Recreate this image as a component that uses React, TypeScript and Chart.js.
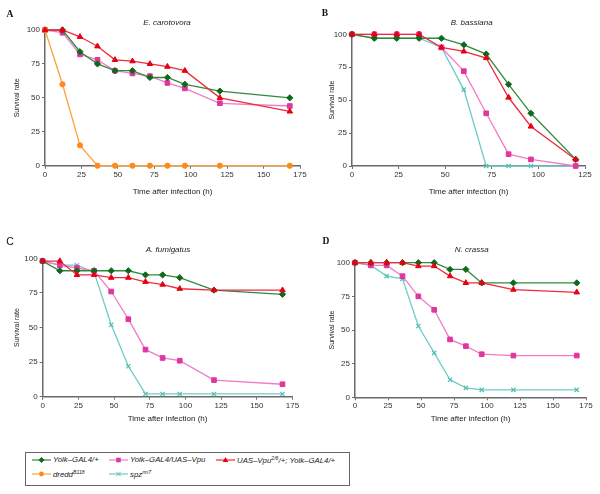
import React, { useEffect, useRef } from "react";
import { Chart, registerables } from "chart.js";
Chart.register(...registerables);

const FONT = 'Arial, "Liberation Sans", Helvetica, sans-serif';
const AXIS = "#6a6a6a";

// ---------- data ----------
const hoursLong = [0, 12, 24, 36, 48, 60, 72, 84, 96, 120, 168];
const hoursB = [0, 12, 24, 36, 48, 60, 72, 84, 96, 120];

// A: E. carotovora
const aYolk = [100, 100, 84, 75, 70, 70, 65, 65, 60, 55, 50];
const aVpu = [100, 98, 82, 78, 70, 68, 66, 61, 57, 46, 44];
const aUas = [100, 100, 95, 88, 78, 77, 75, 73, 70, 50, 40];
const aDredd = [100, 60, 15, 0, 0, 0, 0, 0, 0, 0, 0];

// B: B. bassiana
const bYolk = [100, 97, 97, 97, 97, 92, 85, 62, 40, 5];
const bVpu = [100, 100, 100, 100, 90, 72, 40, 9, 5, 0];
const bUas = [100, 100, 100, 100, 90, 87, 82, 52, 30, 5];
const bSpz = [100, 97, 97, 97, 90, 58, 0, 0, 0, 0];

// C: A. fumigatus
const cYolk = [98, 91, 91, 91, 91, 91, 88, 88, 86, 77, 74];
const cVpu = [98, 95, 93, 91, 76, 56, 34, 28, 26, 12, 9];
const cUas = [98, 98, 88, 88, 86, 86, 83, 81, 78, 77, 77];
const cSpz = [98, 95, 95, 90, 52, 22, 2, 2, 2, 2, 2];

// D: N. crassa
const dYolk = [100, 100, 100, 100, 100, 100, 95, 95, 85, 85, 85];
const dVpu = [100, 98, 98, 90, 75, 65, 43, 38, 32, 31, 31];
const dUas = [100, 100, 100, 100, 97.5, 97.5, 90, 85, 85, 80, 78];
const dSpz = [100, 98, 90, 88, 53, 33, 13, 7, 5.5, 5.5, 5.5];

const yTicks = [0, 25, 50, 75, 100];

// ---------- styles ----------
type Key = "yolk" | "vpu" | "uas" | "dredd" | "spz";
const STYLE: Record<Key, { line: string; point: string; shape: any; r: number; order: number }> = {
  uas: { line: "#ee2a3c", point: "#e60014", shape: "triangle", r: 3.2, order: 0 },
  dredd: { line: "#ffa03c", point: "#ff8a1a", shape: "circle", r: 2.6, order: 1 },
  yolk: { line: "#2f8a3c", point: "#10681c", shape: "rectRot", r: 3.1, order: 2 },
  vpu: { line: "#f27ac6", point: "#e0369f", shape: "rect", r: 3.3, order: 3 },
  spz: { line: "#70cbc5", point: "#52bdb6", shape: "crossRot", r: 3, order: 4 },
};

type Geo = {
  cx: number; cy: number; cw: number; ch: number;
  plotLeft: number; plotRight: number; plotTop: number; plotBottom: number;
  yTitleX: number; xTitleY: number;
};

type PanelDef = {
  letter: string; letterX: number; letterY: number; letterSerif: boolean;
  title: string; titleX: number; titleY: number;
  xMax: number; times: number[];
  series: { key: Key; data: number[] }[];
  geo: Geo;
};

const panels: PanelDef[] = [
  {
    letter: "A", letterX: 10, letterY: 14.5, letterSerif: true,
    title: "E. carotovora", titleX: 167, titleY: 22.7,
    xMax: 175, times: hoursLong,
    series: [
      { key: "uas", data: aUas },
      { key: "dredd", data: aDredd },
      { key: "yolk", data: aYolk },
      { key: "vpu", data: aVpu },
    ],
    geo: { cx: 0, cy: 0, cw: 320, ch: 205, plotLeft: 45, plotRight: 300, plotTop: 30, plotBottom: 165.7, yTitleX: 17, xTitleY: 191.7 },
  },
  {
    letter: "B", letterX: 325, letterY: 14, letterSerif: true,
    title: "B. bassiana", titleX: 471.7, titleY: 22.7,
    xMax: 125, times: hoursB,
    series: [
      { key: "uas", data: bUas },
      { key: "yolk", data: bYolk },
      { key: "vpu", data: bVpu },
      { key: "spz", data: bSpz },
    ],
    geo: { cx: 300, cy: 0, cw: 300, ch: 205, plotLeft: 352, plotRight: 585, plotTop: 34.3, plotBottom: 166, yTitleX: 331.7, xTitleY: 191.7 },
  },
  {
    letter: "C", letterX: 10, letterY: 240.7, letterSerif: false,
    title: "A. fumigatus", titleX: 168, titleY: 250,
    xMax: 175, times: hoursLong,
    series: [
      { key: "uas", data: cUas },
      { key: "yolk", data: cYolk },
      { key: "vpu", data: cVpu },
      { key: "spz", data: cSpz },
    ],
    geo: { cx: 0, cy: 220, cw: 320, ch: 205, plotLeft: 42.7, plotRight: 292.5, plotTop: 258.3, plotBottom: 396.7, yTitleX: 16.7, xTitleY: 418.5 },
  },
  {
    letter: "D", letterX: 326, letterY: 241.7, letterSerif: true,
    title: "N. crassa", titleX: 471.7, titleY: 250,
    xMax: 175, times: hoursLong,
    series: [
      { key: "uas", data: dUas },
      { key: "yolk", data: dYolk },
      { key: "vpu", data: dVpu },
      { key: "spz", data: dSpz },
    ],
    geo: { cx: 300, cy: 220, cw: 300, ch: 205, plotLeft: 355, plotRight: 586, plotTop: 262.7, plotBottom: 397.3, yTitleX: 332.3, xTitleY: 418.5 },
  },
];

const TICK_SIZE = 8;
const XTITLE_SIZE = 8;
const YTITLE_SIZE = 7;

function Panel({ p }: { p: PanelDef }) {
  const ref = useRef<HTMLCanvasElement>(null);
  const g = p.geo;
  useEffect(() => {
    if (!ref.current) return;
    const padTop = g.plotTop - g.cy;
    const yW = g.plotLeft - g.cx;
    const padRight = g.cx + g.cw - g.plotRight;
    const xH = g.cy + g.ch - g.plotBottom;
    const yLH = YTITLE_SIZE * 1.2;
    const xLH = XTITLE_SIZE * 1.2;
    const yTitlePad = g.yTitleX - g.cx - yLH / 2;
    const xTitlePad = g.cy + g.ch - g.xTitleY - xLH / 2;

    const datasets = p.series.map((s) => {
      const st = STYLE[s.key];
      return {
        label: s.key,
        data: p.times.map((t, i) => ({ x: t, y: s.data[i] })),
        borderColor: st.line,
        backgroundColor: st.point,
        pointBackgroundColor: st.point,
        pointBorderColor: st.point,
        pointStyle: st.shape,
        pointRadius: st.r,
        pointBorderWidth: s.key === "spz" ? 1.2 : 1,
        borderWidth: 1.3,
        tension: 0,
        clip: false as any,
        order: st.order,
      };
    });

    const chart = new Chart(ref.current, {
      type: "line",
      data: { datasets },
      options: {
        responsive: false,
        animation: false,
        devicePixelRatio: 1,
        layout: { padding: { top: padTop, left: 0, right: padRight, bottom: 0 } },
        plugins: { legend: { display: false }, tooltip: { enabled: false }, title: { display: false } },
        scales: {
          x: {
            type: "linear",
            min: 0,
            max: p.xMax,
            afterFit: (s: any) => { s.height = xH; },
            ticks: { stepSize: 25, autoSkip: false, maxRotation: 0, padding: 1, color: "#333", font: { family: FONT, size: TICK_SIZE } },
            grid: { drawOnChartArea: false, drawTicks: true, tickLength: 3, color: AXIS, lineWidth: 1 },
            border: { display: true, color: AXIS, width: 1.5 },
            title: { display: true, text: "Time after infection (h)", color: "#222", font: { family: FONT, size: XTITLE_SIZE }, padding: { top: 0, bottom: xTitlePad } },
          },
          y: {
            type: "linear",
            min: 0,
            max: 100,
            afterFit: (s: any) => { s.width = yW; },
            afterBuildTicks: (s: any) => { s.ticks = yTicks.map((v) => ({ value: v })); },
            ticks: { stepSize: 25, padding: 2, color: "#333", font: { family: FONT, size: TICK_SIZE } },
            grid: { drawOnChartArea: false, drawTicks: true, tickLength: 3, color: AXIS, lineWidth: 1 },
            border: { display: true, color: AXIS, width: 1.5 },
            title: { display: true, text: "Survival rate", color: "#222", font: { family: FONT, size: YTITLE_SIZE }, padding: { top: yTitlePad, bottom: 0 } },
          },
        },
      } as any,
    });
    return () => chart.destroy();
  }, []);
  return (
    <canvas
      ref={ref}
      width={g.cw}
      height={g.ch}
      style={{ position: "absolute", left: g.cx, top: g.cy, width: g.cw, height: g.ch }}
    />
  );
}

function LegendSymbol({ k, x, y }: { k: Key; x: number; y: number }) {
  const st = STYLE[k];
  const w = 19;
  const cx = w / 2;
  const cy = 5;
  let marker: React.ReactNode = null;
  if (k === "yolk") marker = <polygon points={`${cx},${cy - 3} ${cx + 3},${cy} ${cx},${cy + 3} ${cx - 3},${cy}`} fill={st.point} />;
  if (k === "vpu") marker = <rect x={cx - 2.3} y={cy - 2.3} width={4.6} height={4.6} fill={st.point} />;
  if (k === "uas") marker = <polygon points={`${cx},${cy - 3} ${cx + 2.8},${cy + 2} ${cx - 2.8},${cy + 2}`} fill={st.point} />;
  if (k === "dredd") marker = <circle cx={cx} cy={cy} r={2.4} fill={st.point} />;
  if (k === "spz")
    marker = (
      <g stroke={st.point} strokeWidth={1}>
        <line x1={cx - 2.2} y1={cy - 2.2} x2={cx + 2.2} y2={cy + 2.2} />
        <line x1={cx - 2.2} y1={cy + 2.2} x2={cx + 2.2} y2={cy - 2.2} />
      </g>
    );
  return (
    <svg width={w} height={10} style={{ position: "absolute", left: x, top: y - 5 }}>
      <line x1={0} y1={cy} x2={w} y2={cy} stroke={st.line} strokeWidth={1.2} />
      {marker}
    </svg>
  );
}

const supStyle: React.CSSProperties = { fontSize: 5.2, verticalAlign: "3px" };

const legendItems: { k: Key; x: number; y: number; label: React.ReactNode }[] = [
  { k: "yolk", x: 32, y: 460, label: <>Yolk–GAL4/+</> },
  { k: "vpu", x: 109, y: 460, label: <>Yolk–GAL4/UAS–Vpu</> },
  { k: "uas", x: 216, y: 460, label: <>UAS–Vpu<sup style={supStyle}>2/6</sup>/+; Yolk–GAL4/+</> },
  { k: "dredd", x: 32, y: 474.3, label: <>dredd<sup style={supStyle}>B118</sup></> },
  { k: "spz", x: 109, y: 474.3, label: <>spz<sup style={supStyle}>rm7</sup></> },
];

export default function App() {
  const textBase: React.CSSProperties = {
    position: "absolute",
    transform: "translate(-50%, -50%)",
    whiteSpace: "nowrap",
    lineHeight: 1,
  };
  return (
    <div style={{ position: "absolute", left: 0, top: 0, width: 600, height: 494, background: "#fff", overflow: "hidden" }}>
      {panels.map((p) => (
        <Panel key={p.letter} p={p} />
      ))}
      {panels.map((p) => (
        <React.Fragment key={"t" + p.letter}>
          <div
            style={{
              ...textBase,
              left: p.letterX,
              top: p.letterY,
              fontFamily: p.letterSerif ? '"Liberation Serif", "DejaVu Serif", serif' : FONT,
              fontWeight: p.letterSerif ? 700 : 400,
              fontSize: p.letterSerif ? 9.5 : 10.5,
              color: "#111",
            }}
          >
            {p.letter}
          </div>
          <div
            style={{
              ...textBase,
              left: p.titleX,
              top: p.titleY,
              fontFamily: FONT,
              fontStyle: "italic",
              fontSize: 8,
              color: "#222",
            }}
          >
            {p.title}
          </div>
        </React.Fragment>
      ))}
      <div
        style={{
          position: "absolute",
          left: 25,
          top: 451.5,
          width: 324.5,
          height: 34.5,
          border: "1.2px solid #666",
          boxSizing: "border-box",
        }}
      />
      {legendItems.map((it) => (
        <React.Fragment key={it.k}>
          <LegendSymbol k={it.k} x={it.x} y={it.y} />
          <div
            style={{
              position: "absolute",
              left: it.x + 21,
              top: it.y,
              transform: "translateY(-50%)",
              fontFamily: FONT,
              fontStyle: "italic",
              fontSize: 7.8,
              lineHeight: 1,
              color: "#222",
              whiteSpace: "nowrap",
            }}
          >
            {it.label}
          </div>
        </React.Fragment>
      ))}
    </div>
  );
}
